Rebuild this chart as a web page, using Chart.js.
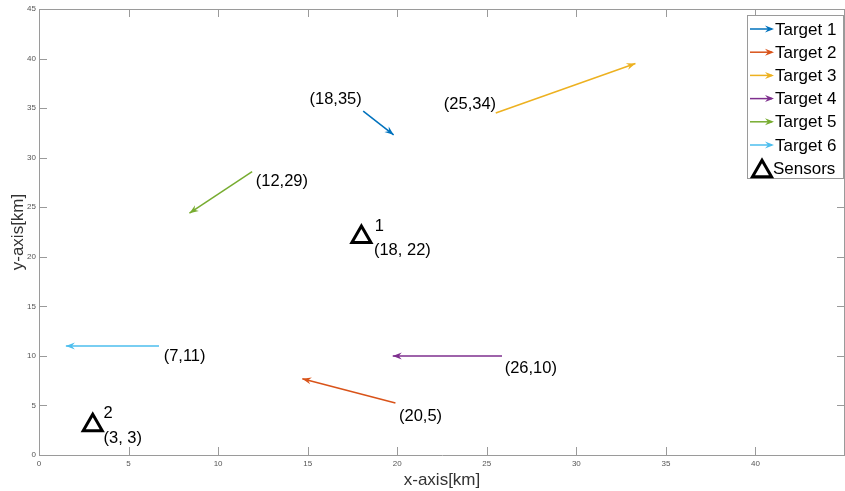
<!DOCTYPE html>
<html>
<head>
<meta charset="utf-8">
<script src="https://cdn.jsdelivr.net/npm/chart.js@4.4.1/dist/chart.umd.min.js"></script>
<style>
  html, body { margin: 0; padding: 0; background: #fff; }
  #wrap { width: 845px; height: 491px; }
</style>
</head>
<body>
<div id="wrap"><canvas id="chart" width="845" height="491"></canvas></div>
<script>
// Target tracks: start -> end (km)
const targetNames = ['Target 1', 'Target 2', 'Target 3', 'Target 4', 'Target 5', 'Target 6'];
const startX = [18.1, 19.9, 25.5, 25.85, 11.9, 6.7];
const startY = [34.7, 5.25, 34.5, 10.0, 28.6, 11.0];
const endX = [19.8, 14.7, 33.3, 19.75, 8.4, 1.5];
const endY = [32.3, 7.7, 39.5, 10.0, 24.4, 11.0];

// Sensor positions (km)
const sensorX = [18, 3];
const sensorY = [22, 3];

// Axis ticks
const tickValues = [0, 5, 10, 15, 20, 25, 30, 35, 40, 45];

// Text annotations
const noteText = ['(18,35)', '(25,34)', '(12,29)', '(18, 22)', '1', '(7,11)', '(26,10)', '(20,5)', '2', '(3, 3)'];
const noteX = [15.1, 22.6, 12.1, 18.7, 18.75, 6.96, 26.0, 20.1, 3.6, 3.6];
const noteY = [35.9, 35.4, 27.55, 20.6, 23.1, 9.9, 8.73, 3.9, 4.24, 1.7];

const colors = ['#0072BD', '#D95319', '#EDB120', '#7E2F8E', '#77AC30', '#4DBEEE'];
const fontFamily = "Arial, 'Liberation Sans', Helvetica, sans-serif";
const axisColor = '#9a9a9a';

function drawHead(ctx, x0, y0, x1, y1, color) {
  const ang = Math.atan2(y1 - y0, x1 - x0);
  const len = 9, half = 3.5, notch = 6;
  ctx.save();
  ctx.translate(x1, y1);
  ctx.rotate(ang);
  ctx.fillStyle = color;
  ctx.beginPath();
  ctx.moveTo(0, 0);
  ctx.lineTo(-len, -half);
  ctx.lineTo(-notch, 0);
  ctx.lineTo(-len, half);
  ctx.closePath();
  ctx.fill();
  ctx.restore();
}

function drawTriangle(ctx, cx, cy, r) {
  ctx.beginPath();
  for (let i = 0; i < 3; i++) {
    const a = i * 2 * Math.PI / 3;
    const px = cx + Math.sin(a) * r, py = cy - Math.cos(a) * r;
    if (i === 0) ctx.moveTo(px, py); else ctx.lineTo(px, py);
  }
  ctx.closePath();
  ctx.stroke();
}

const decorPlugin = {
  id: 'decor',
  afterDatasetsDraw(chart) {
    const ctx = chart.ctx;
    const xs = chart.scales.x, ys = chart.scales.y;
    const area = chart.chartArea;

    // arrow heads
    for (let i = 0; i < targetNames.length; i++) {
      drawHead(ctx,
        xs.getPixelForValue(startX[i]), ys.getPixelForValue(startY[i]),
        xs.getPixelForValue(endX[i]), ys.getPixelForValue(endY[i]), colors[i]);
    }

    // box + inward ticks
    ctx.save();
    ctx.strokeStyle = axisColor;
    ctx.lineWidth = 1;
    ctx.beginPath();
    ctx.moveTo(area.left, area.top + 0.5);
    ctx.lineTo(area.right, area.top + 0.5);
    ctx.moveTo(area.right - 0.5, area.top);
    ctx.lineTo(area.right - 0.5, area.bottom);
    tickValues.forEach(v => {
      const px = Math.round(xs.getPixelForValue(v)) + 0.5;
      ctx.moveTo(px, area.bottom); ctx.lineTo(px, area.bottom - 8);
      ctx.moveTo(px, area.top); ctx.lineTo(px, area.top + 8);
      const py = Math.round(ys.getPixelForValue(v)) + 0.5;
      ctx.moveTo(area.left, py); ctx.lineTo(area.left + 8, py);
      ctx.moveTo(area.right, py); ctx.lineTo(area.right - 8, py);
    });
    ctx.stroke();
    ctx.restore();

    // annotations
    ctx.save();
    ctx.fillStyle = '#000';
    ctx.font = '16.5px ' + fontFamily;
    ctx.textBaseline = 'middle';
    ctx.textAlign = 'left';
    noteText.forEach((t, i) => {
      ctx.fillText(t, xs.getPixelForValue(noteX[i]), ys.getPixelForValue(noteY[i]));
    });
    ctx.restore();

    // legend
    ctx.save();
    const lx = 747, ly = 15, lw = 96, lh = 163;
    ctx.fillStyle = '#fff';
    ctx.fillRect(lx, ly, lw, lh);
    ctx.strokeStyle = axisColor;
    ctx.lineWidth = 1;
    ctx.strokeRect(lx + 0.5, ly + 0.5, lw, lh);
    ctx.font = '17px ' + fontFamily;
    ctx.textBaseline = 'middle';
    ctx.fillStyle = '#000';
    targetNames.forEach((name, i) => {
      const y = ly + 14 + i * 23.2;
      ctx.strokeStyle = colors[i];
      ctx.lineWidth = 1.5;
      ctx.beginPath();
      ctx.moveTo(750, y); ctx.lineTo(772, y);
      ctx.stroke();
      drawHead(ctx, 750, y, 774, y, colors[i]);
      ctx.fillText(name, 775, y + 1);
    });
    const sy = ly + 14 + 6 * 23.2;
    ctx.strokeStyle = '#000';
    ctx.lineWidth = 3;
    ctx.lineJoin = 'miter';
    drawTriangle(ctx, 762, sy + 3, 11);
    ctx.fillText('Sensors', 773, sy + 1);
    ctx.restore();
  }
};

const datasets = targetNames.map((name, i) => ({
  label: name,
  data: [{ x: startX[i], y: startY[i] }, { x: endX[i], y: endY[i] }],
  showLine: true,
  borderColor: colors[i],
  borderWidth: 1.5,
  pointRadius: 0
}));
datasets.push({
  label: 'Sensors',
  data: sensorX.map((x, i) => ({ x: x, y: sensorY[i] })),
  showLine: false,
  pointStyle: 'triangle',
  pointRadius: 11,
  pointBorderWidth: 3,
  pointBorderColor: '#000',
  pointBackgroundColor: 'rgba(0,0,0,0)'
});

new Chart(document.getElementById('chart').getContext('2d'), {
  type: 'scatter',
  data: { datasets: datasets },
  options: {
    responsive: false,
    animation: false,
    layout: { autoPadding: false, padding: { top: 9, right: 0, left: 0, bottom: 0 } },
    plugins: { legend: { display: false }, tooltip: { enabled: false } },
    scales: {
      x: {
        type: 'linear',
        min: 0, max: 45,
        afterBuildTicks: s => { s.ticks = tickValues.map(v => ({ value: v })); },
        afterFit: s => { s.height = 36; s.paddingLeft = 0; s.paddingRight = 0; },
        grid: { display: false, drawTicks: false },
        border: { display: true, color: axisColor, width: 1 },
        ticks: {
          padding: 4,
          maxRotation: 0,
          color: '#555',
          font: { family: fontFamily, size: 8 },
          callback: v => (v === 45 ? '' : String(v))
        },
        title: {
          display: true, text: 'x-axis[km]', color: '#333',
          font: { family: fontFamily, size: 17 },
          padding: { top: 0, bottom: 0 }
        }
      },
      y: {
        type: 'linear',
        min: 0, max: 45,
        afterBuildTicks: s => { s.ticks = tickValues.map(v => ({ value: v })); },
        afterFit: s => { s.width = 39; s.paddingTop = 0; s.paddingBottom = 0; },
        grid: { display: false, drawTicks: false },
        border: { display: true, color: axisColor, width: 1 },
        ticks: {
          padding: 3,
          color: '#555',
          font: { family: fontFamily, size: 8 }
        },
        title: {
          display: true, text: 'y-axis[km]', color: '#333',
          font: { family: fontFamily, size: 17 },
          padding: { top: 8, bottom: 0 }
        }
      }
    }
  },
  plugins: [decorPlugin]
});
</script>
</body>
</html>
